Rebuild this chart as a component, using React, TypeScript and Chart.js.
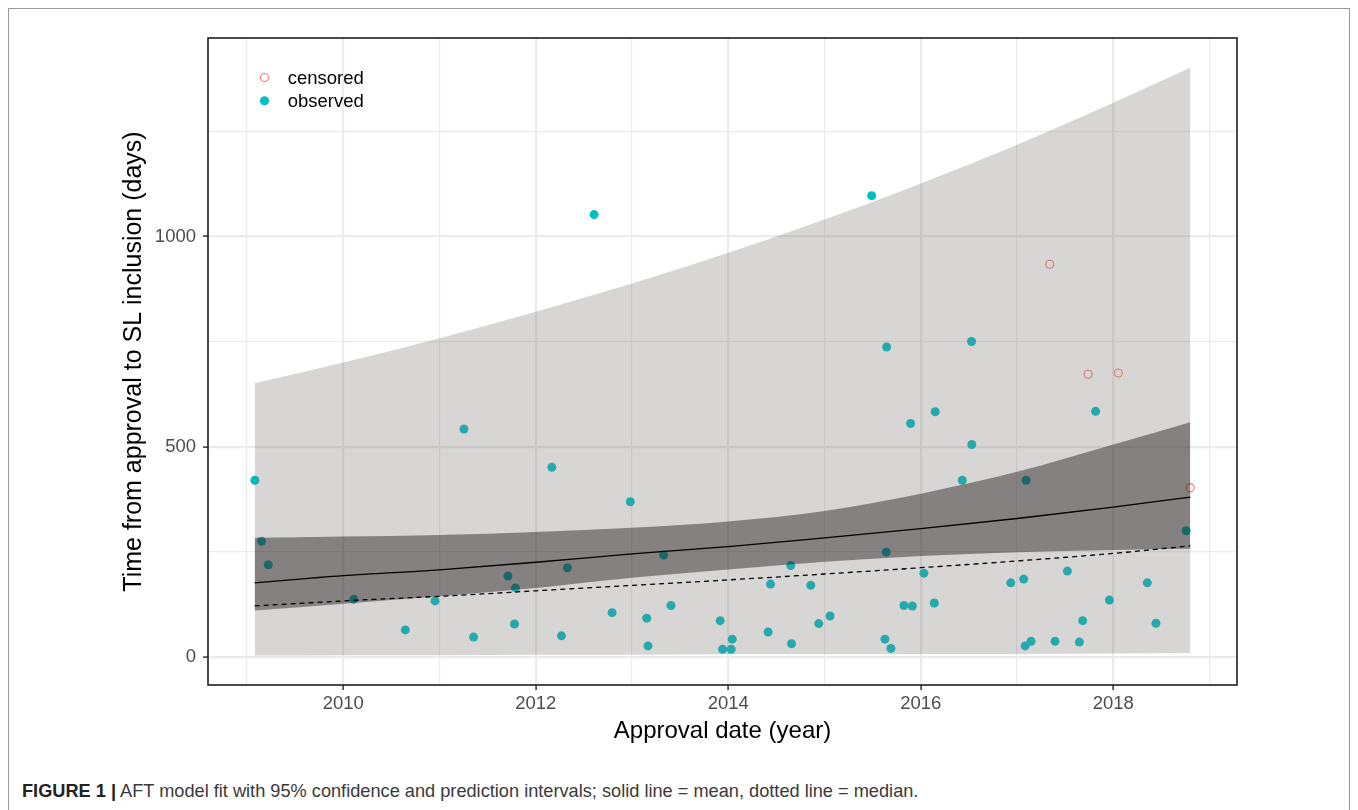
import React, { useEffect, useRef } from "react";
import { Chart, registerables } from "chart.js";

Chart.register(...registerables);

// ---- data ----
const observedYear = [
  2009.082, 2009.151, 2009.221, 2010.109, 2010.953, 2010.645, 2011.354, 2011.254,
  2011.711, 2011.789, 2011.779, 2012.167, 2012.329, 2012.267, 2012.793, 2012.982,
  2013.153, 2013.166, 2013.329, 2013.405, 2013.916, 2013.941, 2014.041, 2014.03,
  2014.414, 2014.439, 2014.649, 2014.657, 2014.857, 2014.94, 2015.057, 2015.642,
  2015.628, 2015.69, 2015.894, 2016.15, 2016.53, 2016.431, 2016.032, 2015.825,
  2015.912, 2016.14, 2015.645, 2016.527, 2017.094, 2017.816, 2018.757, 2016.935,
  2017.069, 2017.523, 2017.959, 2018.353, 2018.443, 2017.682, 2017.084, 2017.146,
  2017.395, 2017.647, 2012.606, 2015.49,
];
const observedDays = [
  420, 275, 219, 137, 133, 64, 47, 542,
  192, 164, 78, 451, 212, 50, 105, 369,
  92, 26, 242, 122, 86, 18, 42, 18,
  59, 173, 217, 31, 170, 79, 97, 249,
  42, 20, 555, 583, 505, 420, 199, 122,
  121, 128, 737, 750, 420, 584, 300, 176,
  185, 204, 135, 176, 80, 86, 26, 37,
  37, 35, 1052, 1097,
];
const censoredYear = [2017.339, 2017.738, 2018.052, 2018.799];
const censoredDays = [934, 672, 675, 402];

const fitYear = [2009.08, 2010, 2011, 2012, 2013, 2014, 2015, 2016, 2017, 2018, 2018.8];
const predLower = [3, 4, 4, 5, 5, 6, 6, 7, 7, 8, 9];
const predUpper = [651, 700, 758, 821, 888, 961, 1040, 1126, 1218, 1318, 1401];
const confLower = [110, 126, 144, 164, 188, 208, 226, 240, 249, 254, 257];
const confUpper = [283, 286, 290, 297, 307, 322, 347, 388, 440, 505, 558];
const meanFit = [176, 193, 207, 225, 245, 262, 283, 305, 329, 356, 380];
const medianFit = [121, 133, 144, 157, 170, 183, 197, 212, 228, 246, 264];

const xTickYears = [2009, 2010, 2011, 2012, 2013, 2014, 2015, 2016, 2017, 2018, 2019];
const yTickValues = [0, 250, 500, 750, 1000, 1250];

const legendLabels = ["censored", "observed"];
const xTitle = "Approval date (year)";
const yTitle = "Time from approval to SL inclusion (days)";

const FONT = '"Liberation Sans", Arial, Helvetica, sans-serif';
const TEAL = "#00BFC4";
const SALMON = "#F8766D";

const pts = (xs: number[], ys: number[]) => xs.map((x, i) => ({ x, y: ys[i] }));

const panelBorder = {
  id: "panelBorder",
  afterDatasetsDraw(chart: any) {
    const { ctx, chartArea: a } = chart;
    ctx.save();
    ctx.strokeStyle = "#1f1f1f";
    ctx.lineWidth = 1.6;
    ctx.strokeRect(a.left, a.top, a.right - a.left, a.bottom - a.top);
    ctx.restore();
  },
};

const insideLegend = {
  id: "insideLegend",
  afterDraw(chart: any) {
    const { ctx } = chart;
    ctx.save();
    ctx.beginPath();
    ctx.arc(256.5, 69.5, 4, 0, Math.PI * 2);
    ctx.strokeStyle = SALMON;
    ctx.lineWidth = 1.1;
    ctx.stroke();
    ctx.beginPath();
    ctx.arc(256.5, 92.8, 4.5, 0, Math.PI * 2);
    ctx.fillStyle = TEAL;
    ctx.fill();
    ctx.fillStyle = "#000";
    ctx.font = `18.5px ${FONT}`;
    ctx.textAlign = "left";
    ctx.textBaseline = "middle";
    ctx.fillText(legendLabels[0], 279.7, 70.5);
    ctx.fillText(legendLabels[1], 279.7, 93.8);
    ctx.restore();
  },
};

export default function App() {
  const ref = useRef<HTMLCanvasElement | null>(null);

  useEffect(() => {
    if (!ref.current) return;
    Chart.defaults.font.family = FONT;
    const chart = new Chart(ref.current, {
      type: "scatter",
      data: {
        datasets: [
          {
            type: "scatter",
            label: "observed",
            data: pts(observedYear, observedDays),
            backgroundColor: TEAL,
            borderWidth: 0,
            borderColor: "rgba(0,0,0,0)",
            pointRadius: 4.5,
            order: 10,
          },
          {
            type: "scatter",
            label: "censored",
            data: pts(censoredYear, censoredDays),
            backgroundColor: "rgba(0,0,0,0)",
            borderColor: SALMON,
            borderWidth: 1.1,
            pointRadius: 4,
            order: 10,
          },
          {
            type: "line",
            label: "predLower",
            data: pts(fitYear, predLower),
            borderColor: "rgba(0,0,0,0)",
            borderWidth: 1,
            pointRadius: 0,
            fill: false,
            cubicInterpolationMode: "monotone",
            order: 6,
          },
          {
            type: "line",
            label: "predUpper",
            data: pts(fitYear, predUpper),
            borderColor: "rgba(0,0,0,0)",
            borderWidth: 1,
            pointRadius: 0,
            fill: "-1",
            backgroundColor: "rgba(122,118,115,0.3)",
            cubicInterpolationMode: "monotone",
            order: 6,
          },
          {
            type: "line",
            label: "confLower",
            data: pts(fitYear, confLower),
            borderColor: "rgba(0,0,0,0)",
            borderWidth: 1,
            pointRadius: 0,
            fill: false,
            cubicInterpolationMode: "monotone",
            order: 4,
          },
          {
            type: "line",
            label: "confUpper",
            data: pts(fitYear, confUpper),
            borderColor: "rgba(0,0,0,0)",
            borderWidth: 1,
            pointRadius: 0,
            fill: "-1",
            backgroundColor: "rgba(20,12,10,0.42)",
            cubicInterpolationMode: "monotone",
            order: 4,
          },
          {
            type: "line",
            label: "mean",
            data: pts(fitYear, meanFit),
            borderColor: "#000",
            borderWidth: 1.3,
            pointRadius: 0,
            fill: false,
            cubicInterpolationMode: "monotone",
            order: 2,
          },
          {
            type: "line",
            label: "median",
            data: pts(fitYear, medianFit),
            borderColor: "#000",
            borderWidth: 1.3,
            borderDash: [5, 4],
            pointRadius: 0,
            fill: false,
            cubicInterpolationMode: "monotone",
            order: 1,
          },
        ] as any,
      },
      options: {
        responsive: false,
        animation: false,
        devicePixelRatio: 1,
        layout: { padding: { top: 30, right: 113, bottom: 0, left: 0 } },
        plugins: {
          legend: { display: false },
          tooltip: { enabled: false },
        },
        scales: {
          x: {
            type: "linear",
            min: 2008.595,
            max: 2019.285,
            afterBuildTicks: (axis: any) => {
              axis.ticks = xTickYears.map((v) => ({ value: v }));
            },
            afterFit: (axis: any) => {
              axis.height = 63;
            },
            border: { display: false },
            grid: {
              color: "#EBEBEB",
              lineWidth: (c: any) => (c.tick && c.tick.value % 2 === 0 ? 2.2 : 1.2),
              tickColor: (c: any) => (c.tick && c.tick.value % 2 === 0 ? "#333333" : "rgba(0,0,0,0)"),
              tickLength: 5,
              tickWidth: 1.5,
            },
            ticks: {
              autoSkip: false,
              maxRotation: 0,
              padding: 3,
              color: "#4D4D4D",
              font: { size: 18.5, family: FONT },
              callback: (v: any) => (Number(v) % 2 === 0 ? String(v) : ""),
            },
            title: {
              display: true,
              text: xTitle,
              color: "#000",
              font: { size: 24, family: FONT, lineHeight: 1 },
              padding: { top: 0, bottom: 5 },
            },
          },
          y: {
            type: "linear",
            min: -67,
            max: 1472,
            afterBuildTicks: (axis: any) => {
              axis.ticks = yTickValues.map((v) => ({ value: v }));
            },
            afterFit: (axis: any) => {
              axis.width = 200;
            },
            border: { display: false },
            grid: {
              color: "#EBEBEB",
              lineWidth: (c: any) => (c.tick && c.tick.value % 500 === 0 ? 2.2 : 1.2),
              tickColor: (c: any) => (c.tick && c.tick.value % 500 === 0 ? "#333333" : "rgba(0,0,0,0)"),
              tickLength: 5,
              tickWidth: 1.5,
            },
            ticks: {
              autoSkip: false,
              padding: 7,
              color: "#4D4D4D",
              font: { size: 18.5, family: FONT },
              callback: (v: any) => (Number(v) % 500 === 0 ? String(v) : ""),
            },
            title: {
              display: true,
              text: yTitle,
              color: "#000",
              font: { size: 25, family: FONT, lineHeight: 1 },
              padding: { top: 114, bottom: 0 },
            },
          },
        },
      } as any,
      plugins: [panelBorder, insideLegend],
    });
    return () => chart.destroy();
  }, []);

  return (
    <div style={{ position: "relative", width: 1342, height: 802, overflow: "hidden", background: "#fff" }}>
      <div
        style={{
          position: "absolute",
          left: 0,
          top: 0,
          width: 1342,
          height: 830,
          boxSizing: "border-box",
          border: "1px solid #9a9a9a",
        }}
      />
      <canvas
        ref={ref}
        width={1342}
        height={740}
        style={{ position: "absolute", left: 0, top: 0, width: 1342, height: 740, display: "block" }}
      />
      <div
        style={{
          position: "absolute",
          left: 14,
          top: 772,
          fontFamily: FONT,
          fontSize: 18.2,
          color: "#3a3a3a",
          whiteSpace: "nowrap",
          lineHeight: "22px",
        }}
      >
        <b style={{ color: "#222" }}>FIGURE 1 |</b> AFT model fit with 95% confidence and prediction intervals; solid line = mean, dotted line = median.
      </div>
    </div>
  );
}
